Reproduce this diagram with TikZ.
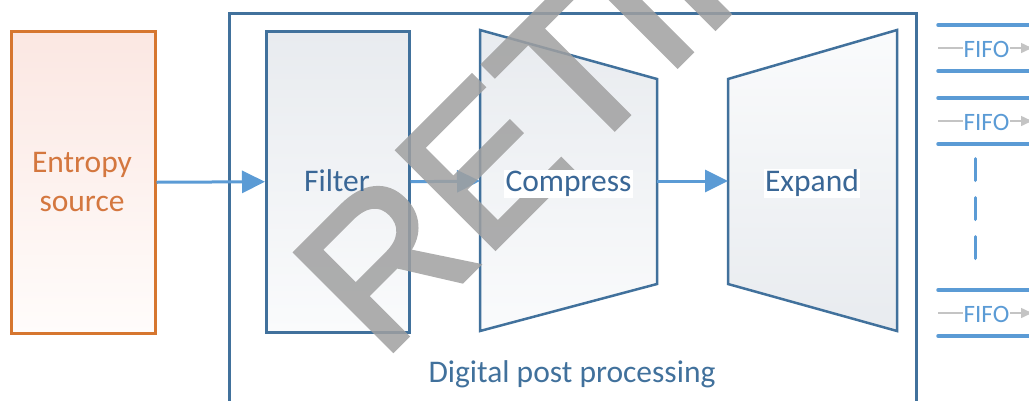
\documentclass[tikz,border=0pt]{standalone}
\usepackage{fontspec}
\setmainfont{Carlito}
\newfontfamily\wmfont[FakeBold=2.5]{Liberation Sans}
\usetikzlibrary{arrows.meta}
\definecolor{boxblue}{HTML}{41719C}
\definecolor{txtblue}{HTML}{3A6796}
\definecolor{arrblue}{HTML}{5B9BD5}
\definecolor{orng}{HTML}{D6762F}
\definecolor{orngtxt}{HTML}{D4773F}
\definecolor{fillgray}{HTML}{E8EBEF}
\definecolor{fillpale}{HTML}{FAFBFC}
\definecolor{pinktop}{HTML}{FBE7E2}
\definecolor{pinkbot}{HTML}{FFFCFB}
\definecolor{lgray}{HTML}{C4C4C4}
\definecolor{wmgray}{HTML}{A0A0A0}
\begin{document}
\begin{tikzpicture}[x=1pt,y=-1pt,
  lbl/.style={font=\fontsize{31.5}{39}\selectfont, text=txtblue, anchor=base},
  flow/.style={draw=arrblue, line width=3pt, -{Triangle[length=23pt,width=22pt]}},
  stage/.style={draw=boxblue, line width=2.5pt, line join=miter},
  rail/.style={draw=arrblue, line width=3.5pt, line cap=round},
  fifolbl/.style={font=\fontsize{25}{25}\selectfont, text=arrblue, inner sep=1pt, anchor=base},
  feed/.style={draw=lgray, line width=1.5pt},
]
\useasboundingbox (0,0) rectangle (1029,400);
\clip (0,0) rectangle (1029,400);

% entropy source
\node[draw=orng, line width=2.5pt, top color=pinktop, bottom color=pinkbot,
      minimum width=144pt, minimum height=302pt, inner sep=0pt, anchor=north west] (src) at (10,30) {};
\node[align=center, font=\fontsize{31.5}{39}\selectfont, text=orngtxt, anchor=base] (srclbl) at (82,211.5) {Entropy\\source};

% digital post processing frame
\node[stage, minimum width=687pt, minimum height=420pt, inner sep=0pt, anchor=north west] (dpp) at (228,12) {};

% filter
\node[stage, top color=fillgray, bottom color=fillpale, minimum width=143pt, minimum height=301pt,
      inner sep=0pt, anchor=north west] (filter) at (265,30) {};

% compress
\coordinate (c1) at (480,30);
\coordinate (c2) at (657,79);
\coordinate (c3) at (657,284);
\coordinate (c4) at (480,331);
\path[stage, top color=fillgray, bottom color=fillpale] (c1) -- (c2) -- (c3) -- (c4) -- cycle;

% expand
\coordinate (e1) at (728,79);
\coordinate (e2) at (897,30);
\coordinate (e3) at (897,331);
\coordinate (e4) at (728,284);
\path[stage, top color=fillpale, bottom color=fillgray] (e1) -- (e2) -- (e3) -- (e4) -- cycle;

% flow arrows
\coordinate (cin) at (480,181);
\coordinate (cout) at (657,181);
\coordinate (ein) at (728,181);
\draw[flow] (src.east) -- (filter.west);
\draw[flow] (filter.east) -- (cin);
\draw[flow] (cout) -- (ein);

% FIFO rails
\foreach \y/\n in {25/1, 98/2, 290/3} {
  \coordinate (ra\n) at (938,\y);
  \coordinate (rb\n) at (1040,\y);
  \coordinate (sa\n) at (938,\y+46);
  \coordinate (sb\n) at (1040,\y+46);
  \draw[rail] (ra\n) -- (rb\n);
  \draw[rail] (sa\n) -- (sb\n);
  \node[fifolbl] (f\n) at (986.5,\y+32) {FIFO};
  \coordinate (gin\n) at (938,\y+23);
  \coordinate (gl\n) at (963,\y+23);
  \coordinate (gr\n) at (1010,\y+23);
  \coordinate (gout\n) at (1032,\y+23);
  \draw[feed] (gin\n) -- (gl\n);
  \draw[feed, -{Triangle[length=11pt,width=10pt]}, fill=lgray] (gr\n) -- (gout\n);
}
\coordinate (d1) at (975,158.5);
\coordinate (d2) at (975,258.5);
\draw[draw=arrblue, line width=3pt, line cap=round, dash pattern=on 22pt off 17pt] (d1) -- (d2);

% watermark
\begin{scope}[transparency group, opacity=0.85]
\node[rotate=45, anchor=base west, inner sep=0pt, text=wmgray,
      font=\wmfont\fontsize{200}{200}\selectfont] (wm) at (381.6,361.4) {RETIRED};
\end{scope}

% labels on top
\node[lbl] (filterlbl) at (337,191.5) {Filter};
\node[lbl, fill=white, inner xsep=1.5pt, inner ysep=1pt] (cmp) at (568.5,191.5) {Compress};
\node[lbl, fill=white, inner xsep=1.5pt, inner ysep=1pt] (exp) at (812,191.5) {Expand};
\node[lbl, text=boxblue] (dpplbl) at (572,382) {Digital post processing};
\end{tikzpicture}
\end{document}
